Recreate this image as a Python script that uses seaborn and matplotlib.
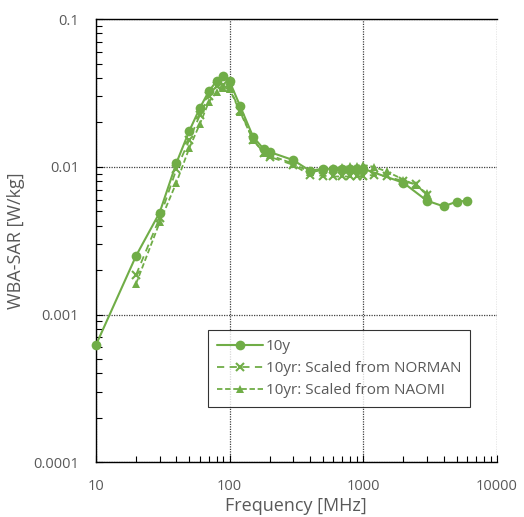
import seaborn as sns
import numpy as np
import matplotlib.pyplot as plt
from matplotlib.ticker import LogLocator, FixedLocator, NullFormatter

# frequencies [MHz]
freq_10y = [10, 20, 30, 40, 50, 60, 70, 80, 90, 100, 120, 150, 180, 200, 300, 400,
            500, 600, 700, 800, 900, 1000, 2000, 3000, 4000, 5000, 6000]
sar_10y = [0.00062, 0.0025, 0.0049, 0.0106, 0.0175, 0.025, 0.0325, 0.038, 0.041, 0.038,
           0.0258, 0.016, 0.0132, 0.0126, 0.0111, 0.0094, 0.0097, 0.0097, 0.0097, 0.0097,
           0.0097, 0.0097, 0.0078, 0.0059, 0.0054, 0.0058, 0.0059]

freq_sc = [20, 30, 40, 50, 60, 70, 80, 90, 100, 120, 150, 180, 200, 300, 400,
           500, 600, 700, 800, 900, 1000, 1200, 1500, 2000, 2500, 3000]
sar_norman = [0.00186, 0.0045, 0.0096, 0.0152, 0.0224, 0.030, 0.035, 0.036, 0.034,
              0.024, 0.0152, 0.0125, 0.0117, 0.0103, 0.0088, 0.0087, 0.0086, 0.0086,
              0.0086, 0.0086, 0.0087, 0.0088, 0.0086, 0.0080, 0.0076, 0.0064]
sar_naomi = [0.00162, 0.0042, 0.0078, 0.0134, 0.0195, 0.0275, 0.032, 0.034, 0.0337,
             0.0235, 0.0152, 0.0125, 0.012, 0.0105, 0.0092, 0.0095, 0.0098, 0.0100,
             0.0101, 0.0102, 0.0103, 0.0100, 0.0093, 0.0082, 0.0075, 0.0066]

green = '#70AD47'
txt = '#595959'

sns.set_style('white')
plt.rcParams['font.family'] = ['Open Sans', 'DejaVu Sans']

fig = plt.figure(figsize=(5.24, 5.17), dpi=100)
ax = fig.add_axes([0.183, 0.106, 0.765, 0.857])

sns.lineplot(x=freq_10y, y=sar_10y, ax=ax, color=green, lw=1.5, marker='o',
             markersize=7, markeredgewidth=0, label='10y', clip_on=False, zorder=3)
sns.lineplot(x=freq_sc, y=sar_norman, ax=ax, color=green, lw=1.3, marker='x',
             markersize=6, markeredgewidth=1.5, markeredgecolor=green,
             linestyle=(0, (4, 3)), label='10yr: Scaled from NORMAN')
sns.lineplot(x=freq_sc, y=sar_naomi, ax=ax, color=green, lw=1.3, marker='^',
             markersize=6, markeredgewidth=0, linestyle=(0, (3, 1.5)),
             label='10yr: Scaled from NAOMI')

ax.set_xscale('log')
ax.set_yscale('log')
ax.set_xlim(10, 10000)
ax.set_ylim(0.0001, 0.1)
ax.xaxis.set_major_locator(FixedLocator([10, 100, 1000, 10000]))
ax.yaxis.set_major_locator(FixedLocator([0.0001, 0.001, 0.01, 0.1]))
ax.set_xticklabels(['10', '100', '1000', '10000'])
ax.set_yticklabels(['0.0001', '0.001', '0.01', '0.1'])
ax.xaxis.set_minor_locator(LogLocator(base=10, subs=np.arange(2, 10)))
ax.yaxis.set_minor_locator(LogLocator(base=10, subs=np.arange(2, 10)))
ax.xaxis.set_minor_formatter(NullFormatter())
ax.yaxis.set_minor_formatter(NullFormatter())
ax.tick_params(axis='x', which='both', bottom=True, top=False)
ax.tick_params(axis='y', which='both', left=True, right=False)
ax.tick_params(which='major', direction='in', length=5, width=0.8, color='black',
               labelsize=10.5, labelcolor=txt, pad=12)
ax.tick_params(which='minor', direction='in', length=4, width=0.8, color='black')

ax.grid(True, which='major', color='#404040', linestyle=(0, (1, 1)), lw=0.9)

for s in ['left', 'bottom', 'top']:
    ax.spines[s].set_color('black')
    ax.spines[s].set_linewidth(1)
ax.spines['right'].set_visible(False)

ax.set_xlabel('Frequency [MHz]', fontsize=13, color=txt, labelpad=2)
ax.set_ylabel('WBA-SAR [W/kg]', fontsize=13, color=txt, labelpad=6)

leg = ax.legend(loc='lower left', bbox_to_anchor=(0.279, 0.124), fontsize=11,
                frameon=True, fancybox=False, edgecolor='black', handlelength=3,
                borderpad=0.6, labelspacing=0.45, handletextpad=0.2, borderaxespad=0)
leg.get_frame().set_linewidth(0.8)
for t in leg.get_texts():
    t.set_color(txt)

fig.savefig('out.png', dpi=100)
